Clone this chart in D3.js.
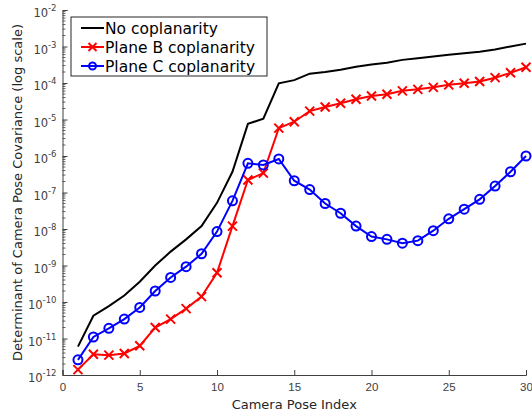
<!DOCTYPE html>
<html>
<head>
<meta charset="utf-8">
<script src="https://cdn.jsdelivr.net/npm/d3@7"></script>
<style>
  body { margin: 0; background: #fff; }
  svg { font-family: "DejaVu Sans", sans-serif; }
</style>
</head>
<body>
<div id="chart"></div>
<script>
// camera pose indices
var poses = d3.range(1, 31);

// determinant values
var noCoplanarity = [6e-12, 4.2e-11, 7.7e-11, 1.5e-10, 3.6e-10, 1.0e-9, 2.4e-9, 5.2e-9, 1.2e-8, 5.2e-8,
    3.7e-7, 7.6e-6, 1.05e-5, 9.8e-5, 1.2e-4, 1.8e-4, 2.0e-4, 2.3e-4, 2.8e-4, 3.2e-4,
    3.6e-4, 4.3e-4, 4.8e-4, 5.3e-4, 5.9e-4, 6.5e-4, 7.2e-4, 8.3e-4, 1.0e-3, 1.2e-3];
var planeB = [1.4e-12, 3.7e-12, 3.5e-12, 3.9e-12, 6.3e-12, 2.0e-11, 3.4e-11, 6.6e-11, 1.4e-10, 6.3e-10,
    1.2e-8, 2.2e-7, 3.4e-7, 5.8e-6, 8.7e-6, 1.7e-5, 2.2e-5, 2.8e-5, 3.6e-5, 4.4e-5,
    4.9e-5, 6.1e-5, 6.7e-5, 7.6e-5, 8.9e-5, 9.8e-5, 1.1e-4, 1.4e-4, 1.9e-4, 2.7e-4];
var planeC = [2.6e-12, 1.1e-11, 1.9e-11, 3.4e-11, 7.1e-11, 2.0e-10, 4.7e-10, 9.3e-10, 2.1e-9, 8.5e-9,
    5.9e-8, 6.3e-7, 5.7e-7, 8.3e-7, 2.1e-7, 1.2e-7, 5.0e-8, 2.7e-8, 1.2e-8, 6.2e-9,
    5.2e-9, 4.1e-9, 4.8e-9, 9.0e-9, 1.9e-8, 3.5e-8, 6.5e-8, 1.5e-7, 3.7e-7, 1.0e-6];

var legendLabels = ["No coplanarity", "Plane B coplanarity", "Plane C coplanarity"];
var xTicks = [0, 5, 10, 15, 20, 25, 30];
var yExponents = [-12, -11, -10, -9, -8, -7, -6, -5, -4, -3, -2];

var width = 532, height = 414;
var margin = { top: 10, right: 6, bottom: 39, left: 62.5 };

var svg = d3.select("#chart").append("svg")
    .attr("width", width)
    .attr("height", height);

var x = d3.scaleLinear().domain([0, 30]).range([margin.left, width - margin.right]);
var y = d3.scaleLog().domain([1e-12, 1e-2]).range([height - margin.bottom, margin.top]);

// minor ticks on y
var minor = [];
yExponents.slice(0, -1).forEach(function(e) {
    for (var k = 2; k <= 9; k++) minor.push(k * Math.pow(10, e));
});

var tickColor = "#404040";

// x axis
var xAxis = svg.append("g")
    .attr("transform", "translate(0," + y(1e-12) + ")")
    .call(d3.axisBottom(x).tickValues(xTicks).tickSize(-5).tickPadding(8).tickFormat(d3.format("d")));
xAxis.select(".domain").attr("stroke", tickColor);
xAxis.selectAll(".tick line").attr("stroke", tickColor);
xAxis.selectAll("text").attr("fill", tickColor).style("font-size", "11.5px");

// y axis
var yAxis = svg.append("g")
    .attr("transform", "translate(" + x(0) + ",0)")
    .call(d3.axisLeft(y).tickValues(yExponents.map(function(e) { return Math.pow(10, e); }))
        .tickSize(-5).tickPadding(8).tickFormat(""));
yAxis.select(".domain").attr("stroke", tickColor);
yAxis.selectAll(".tick line").attr("stroke", tickColor);

svg.append("g")
    .attr("transform", "translate(" + x(0) + ",0)")
    .selectAll("line")
    .data(minor)
    .enter()
    .append("line")
    .attr("x1", 0).attr("x2", 3)
    .attr("y1", function(d) { return y(d); })
    .attr("y2", function(d) { return y(d); })
    .attr("stroke", tickColor)
    .attr("stroke-width", 0.8);

// y tick labels as 10^e
var yLab = svg.append("g").selectAll("text")
    .data(yExponents)
    .enter()
    .append("text")
    .attr("x", x(0) - 6)
    .attr("y", function(e) { return y(Math.pow(10, e)) + 7; })
    .attr("text-anchor", "end")
    .attr("fill", tickColor)
    .style("font-size", "11.5px");
yLab.append("tspan").text("10");
yLab.append("tspan")
    .attr("dy", -6)
    .style("font-size", "8.5px")
    .text(function(e) { return e; });

// axis titles
svg.append("text")
    .attr("x", (x(0) + x(30)) / 2)
    .attr("y", 409)
    .attr("text-anchor", "middle")
    .attr("fill", "#262626")
    .style("font-size", "13px")
    .text("Camera Pose Index");

svg.append("text")
    .attr("transform", "translate(22," + (y(1e-7)) + ") rotate(-90)")
    .attr("text-anchor", "middle")
    .attr("fill", "#262626")
    .style("font-size", "13px")
    .text("Determinant of Camera Pose Covariance (log scale)");

// lines
var line = d3.line()
    .x(function(d, i) { return x(poses[i]); })
    .y(function(d) { return y(d); });

var series = [
    { values: noCoplanarity, color: "#000000", marker: "none" },
    { values: planeB, color: "#ff0000", marker: "x" },
    { values: planeC, color: "#0000ff", marker: "o" }
];

series.forEach(function(s) {
    svg.append("path")
        .datum(s.values)
        .attr("d", line)
        .attr("fill", "none")
        .attr("stroke", s.color)
        .attr("stroke-width", 2);

    var g = svg.append("g");
    if (s.marker === "o") {
        g.selectAll("circle")
            .data(s.values)
            .enter()
            .append("circle")
            .attr("cx", function(d, i) { return x(poses[i]); })
            .attr("cy", function(d) { return y(d); })
            .attr("r", 4.5)
            .attr("fill", "none")
            .attr("stroke", s.color)
            .attr("stroke-width", 2);
    } else if (s.marker === "x") {
        g.selectAll("path")
            .data(s.values)
            .enter()
            .append("path")
            .attr("d", function(d, i) {
                var cx = x(poses[i]), cy = y(d), r = 4.5;
                return "M" + (cx - r) + "," + (cy - r) + "L" + (cx + r) + "," + (cy + r) +
                    "M" + (cx - r) + "," + (cy + r) + "L" + (cx + r) + "," + (cy - r);
            })
            .attr("stroke", s.color)
            .attr("stroke-width", 2);
    }
});

// legend
var legend = svg.append("g").attr("transform", "translate(71,17)");
legend.append("rect")
    .attr("width", 196)
    .attr("height", 59)
    .attr("fill", "#fff")
    .attr("stroke", "#262626")
    .attr("stroke-width", 1);

var items = legend.selectAll("g.item")
    .data(series)
    .enter()
    .append("g")
    .attr("class", "item")
    .attr("transform", function(d, i) { return "translate(0," + (11 + i * 19) + ")"; });

items.append("line")
    .attr("x1", 10).attr("x2", 33)
    .attr("stroke", function(d) { return d.color; })
    .attr("stroke-width", 2);

items.filter(function(d) { return d.marker === "o"; })
    .append("circle")
    .attr("cx", 21.5).attr("r", 3.5)
    .attr("fill", "none")
    .attr("stroke", function(d) { return d.color; })
    .attr("stroke-width", 2);

items.filter(function(d) { return d.marker === "x"; })
    .append("path")
    .attr("d", "M17.5,-4L25.5,4M17.5,4L25.5,-4")
    .attr("stroke", function(d) { return d.color; })
    .attr("stroke-width", 2);

items.append("text")
    .attr("x", 34)
    .attr("y", 5.5)
    .style("font-size", "15.5px")
    .attr("fill", "#000")
    .text(function(d, i) { return legendLabels[i]; });
</script>
</body>
</html>
